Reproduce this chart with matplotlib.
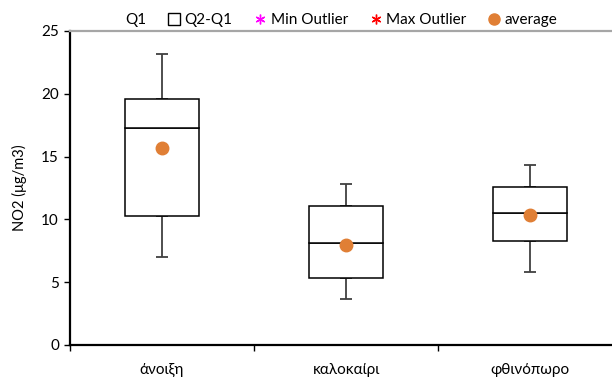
import matplotlib
matplotlib.use("Agg")
import matplotlib.pyplot as plt
from matplotlib.lines import Line2D
from matplotlib.patches import Patch

plt.rcParams['font.family'] = ['Lato', 'Noto Sans', 'DejaVu Sans']

# Seasonal NO2 statistics
seasons = ["άνοιξη", "καλοκαίρι", "φθινόπωρο"]
q1 = [10.25, 5.3, 8.25]
median = [17.3, 8.1, 10.5]
q3 = [19.6, 11.05, 12.55]
whisker_min = [7.0, 3.65, 5.8]
whisker_max = [23.15, 12.85, 14.35]
average = [15.65, 8.0, 10.35]
y_ticks = [0, 5, 10, 15, 20, 25]

fig = plt.figure(figsize=(6.12, 3.78), dpi=100)
ax = fig.add_axes([70 / 612, 33 / 378, 552 / 612, 314 / 378])

x = [i + 0.5 for i in range(len(seasons))]
width = 0.4
lower_h = [m - a for m, a in zip(median, q1)]
upper_h = [b - m for b, m in zip(q3, median)]

ax.bar(x, lower_h, bottom=q1, width=width, color='white',
       edgecolor='black', linewidth=1.1, zorder=3)
ax.bar(x, upper_h, bottom=median, width=width, color='white',
       edgecolor='black', linewidth=1.1, zorder=3)

# Whiskers from box edges to min / max
ax.errorbar(x, q1, yerr=[[a - w for a, w in zip(q1, whisker_min)], [0] * 3],
            fmt='none', ecolor='#404040', elinewidth=1.3, capsize=4,
            capthick=1.3, zorder=2)
ax.errorbar(x, q3, yerr=[[0] * 3, [w - b for w, b in zip(whisker_max, q3)]],
            fmt='none', ecolor='#404040', elinewidth=1.3, capsize=4,
            capthick=1.3, zorder=2)

ax.plot(x, average, linestyle='none', marker='o', markersize=9,
        color='#E07F35', zorder=4)

ax.set_xlim(0, 3)
ax.set_ylim(0, 25)
ax.set_yticks(y_ticks)
ax.tick_params(axis='y', direction='out', length=4, width=1, labelsize=11,
               pad=4, colors='black')
ax.set_xticks([0, 1, 2, 3])
ax.set_xticklabels([])
ax.tick_params(axis='x', which='major', direction='out', length=4, width=1)
ax.set_xticks(x, minor=True)
ax.set_xticklabels(seasons, minor=True)
ax.tick_params(axis='x', which='minor', length=0, pad=13, labelsize=11)

for side in ('left', 'bottom'):
    ax.spines[side].set_color('black')
    ax.spines[side].set_linewidth(1.6)
ax.spines['top'].set_color('#A6A6A6')
ax.spines['top'].set_linewidth(1.6)
ax.spines['right'].set_visible(False)

ax.set_ylabel("NO2 (μg/m3)", fontsize=10.5, labelpad=10)

handles = [
    Line2D([], [], linestyle='none'),
    Patch(facecolor='white', edgecolor='black', linewidth=1),
    Line2D([], [], linestyle='none', marker=(6, 2, 0), color='#FF00FF',
           markersize=7, markeredgewidth=1),
    Line2D([], [], linestyle='none', marker=(6, 2, 0), color='#FF0000',
           markersize=7, markeredgewidth=1),
    Line2D([], [], linestyle='none', marker='o', color='#E07F35',
           markersize=8),
]
labels = ["Q1", "Q2-Q1", "Min Outlier", "Max Outlier", "average"]
fig.legend(handles, labels, loc='center', bbox_to_anchor=(333 / 612, 1 - 20 / 378),
           ncol=5, frameon=False, fontsize=11, handlelength=0.8,
           handleheight=0.8, handletextpad=0.3, columnspacing=1.4,
           borderaxespad=0)

fig.savefig("out.png", dpi=100)
